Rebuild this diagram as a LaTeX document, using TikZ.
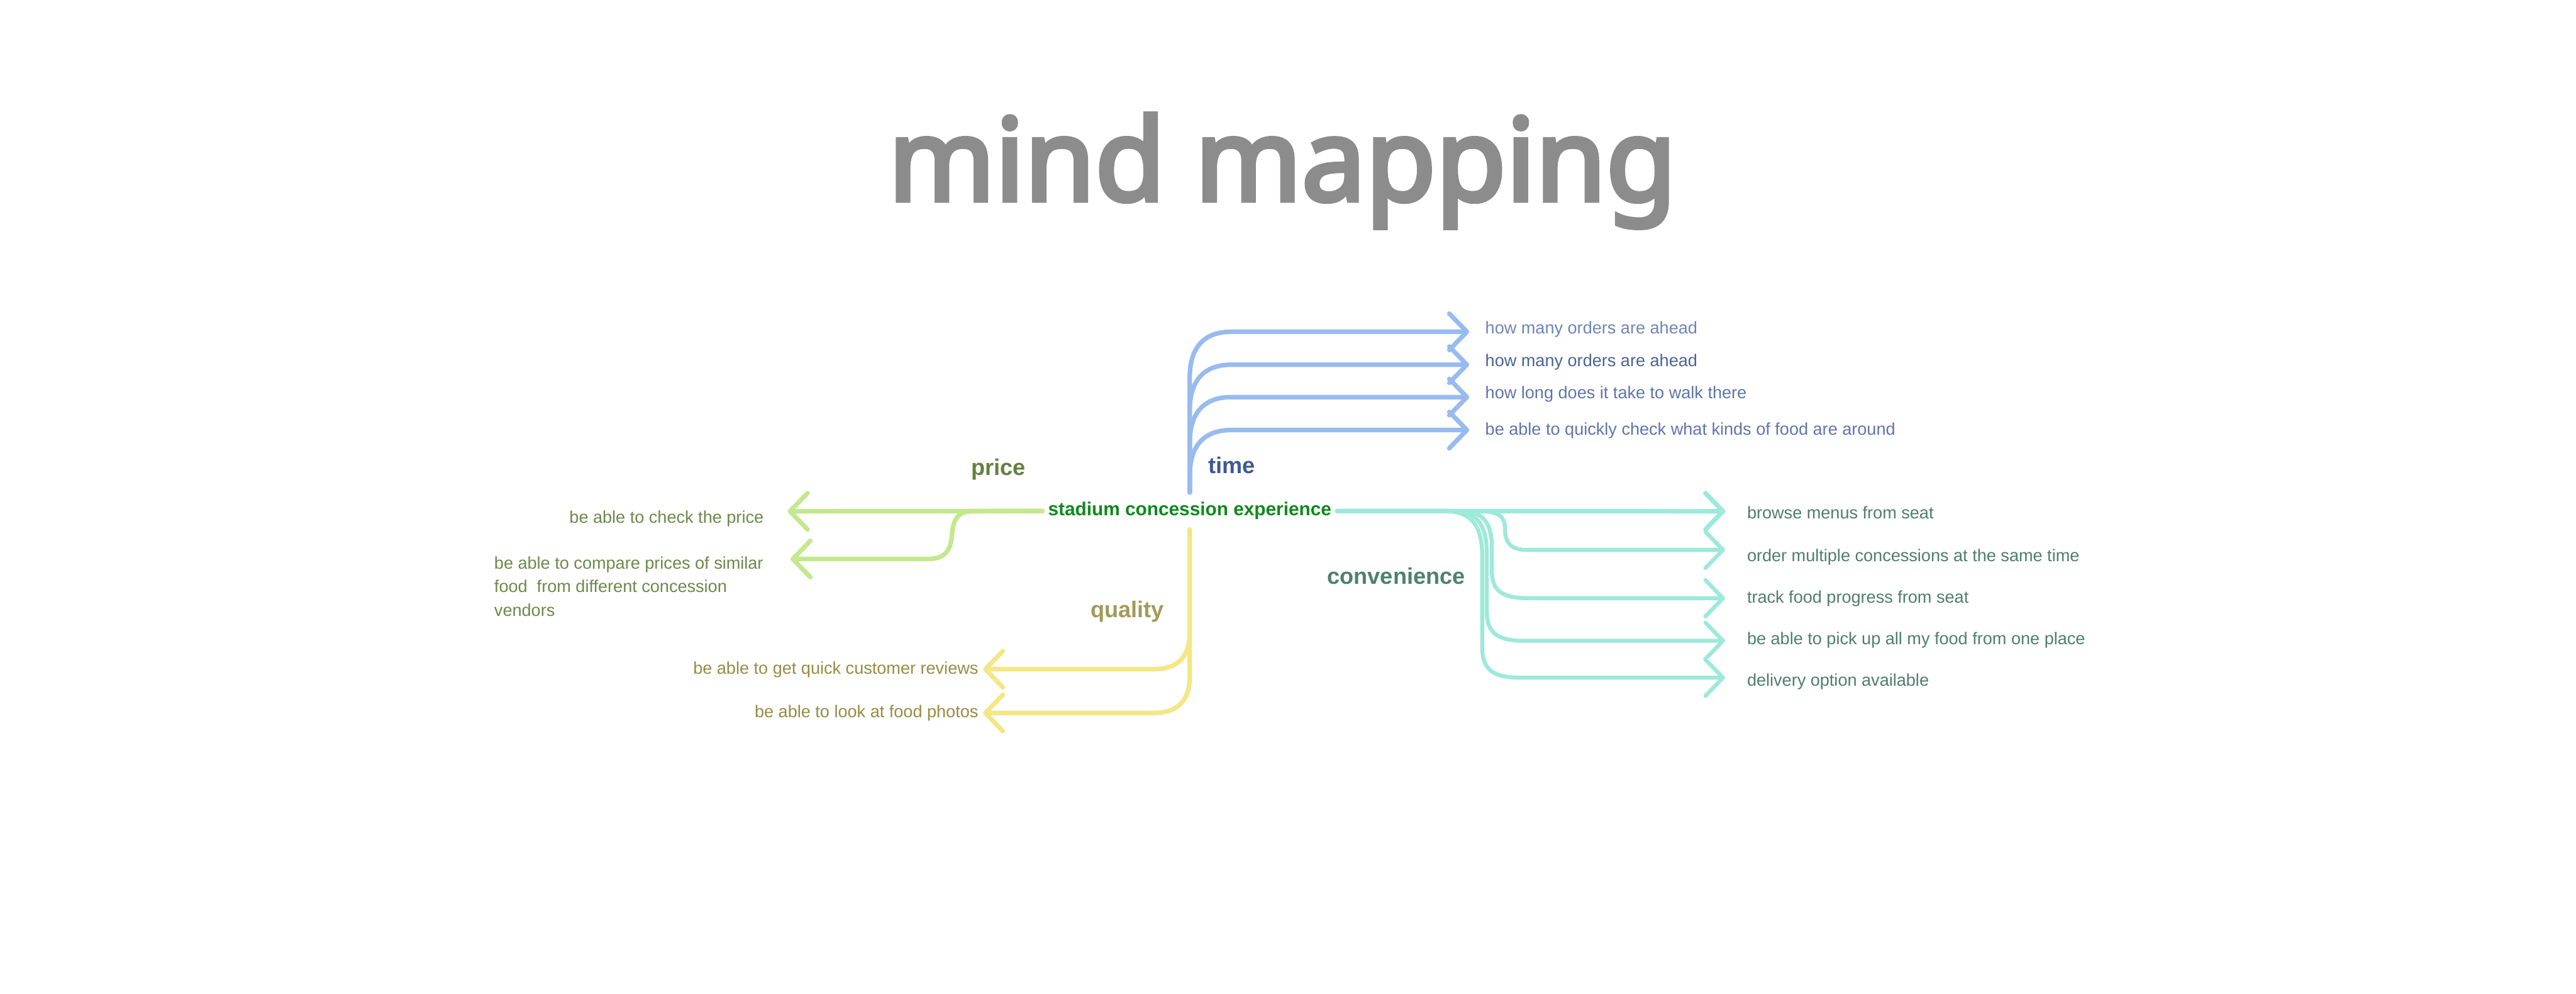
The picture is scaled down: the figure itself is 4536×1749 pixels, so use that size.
\documentclass[tikz,border=0pt]{standalone}
\usepackage{fontspec}
\setmainfont{Liberation Sans}
\newfontfamily\titlefont[FakeBold=4]{Noto Sans}
\definecolor{tline}{HTML}{98BBEF}
\definecolor{pline}{HTML}{C4E88E}
\definecolor{qline}{HTML}{F3E786}
\definecolor{cline}{HTML}{9DE9DA}
\definecolor{titlegray}{HTML}{8C8C8C}
\definecolor{rootgreen}{HTML}{0D8A1C}
\definecolor{tlabel}{HTML}{3E5A92}
\definecolor{plabel}{HTML}{638040}
\definecolor{qlabel}{HTML}{A39A58}
\definecolor{clabel}{HTML}{4E8070}
\definecolor{ttextA}{HTML}{6F86B8}
\definecolor{ttextB}{HTML}{4A6496}
\definecolor{ttextC}{HTML}{5F76AC}
\definecolor{ptext}{HTML}{6B8A4A}
\definecolor{qtext}{HTML}{978C42}
\definecolor{ctext}{HTML}{4E7E6E}
\begin{document}
\begin{tikzpicture}[x=0.5pt,y=-0.5pt,
  conn/.style={line width=4pt,line cap=round,line join=round},
  thin conn/.style={line width=3.5pt,line cap=round,line join=round},
  leaf/.style={inner sep=0pt,font=\fontsize{15}{21}\selectfont},
  lab/.style={inner sep=0pt,font=\bfseries\fontsize{20}{24}\selectfont}]
\useasboundingbox (0,0) rectangle (4536,1749);
\fill[white] (0,0) rectangle (4536,1749);

% title
\node[inner sep=0pt,anchor=base,text=titlegray,font=\titlefont\bfseries\fontsize{100.5}{110}\selectfont] (title) at (2258,353) {mind mapping};

% root
\node[anchor=base,inner xsep=4.75pt,inner ysep=8.5pt,text=rootgreen,font=\bfseries\fontsize{16.5}{20}\selectfont] (root) at (2095,908) {stadium concession experience};

% branch labels
\node[lab,anchor=base west,text=tlabel] (time) at (2127,833) {time};
\node[lab,anchor=base west,text=plabel] (price) at (1710,837) {price};
\node[lab,anchor=base west,text=qlabel] (quality) at (1920,1087) {quality};
\node[lab,anchor=base west,text=clabel] (convenience) at (2337,1028) {convenience};

% tips
\coordinate (t1) at (2583,584);
\coordinate (t2) at (2583,642);
\coordinate (t3) at (2583,699);
\coordinate (t4) at (2583,757);
\coordinate (p1) at (1391,900);
\coordinate (p2) at (1396,984);
\coordinate (q1) at (1735,1178);
\coordinate (q2) at (1735,1255);
\coordinate (c1) at (3034,900);
\coordinate (c2) at (3034,968);
\coordinate (c3) at (3034,1053);
\coordinate (c4) at (3034,1128);
\coordinate (c5) at (3034,1193);

% time leaves
\node[leaf,anchor=base west,text=ttextA] (tl1) at (2615,588) {how many orders are ahead};
\node[leaf,anchor=base west,text=ttextB] (tl2) at (2615,645) {how many orders are ahead};
\node[leaf,anchor=base west,text=ttextC] (tl3) at (2615,702) {how long does it take to walk there};
\node[leaf,anchor=base west,text=ttextC] (tl4) at (2615,766) {be able to quickly check what kinds of food are around};

% price leaves
\node[leaf,anchor=base east,text=ptext] (pl1) at (1345,921) {be able to check the price};
\node[leaf,anchor=north west,align=left,text=ptext] (pl2) at (870,979) {be able to compare prices of similar\\food~ from different concession\\vendors};

% quality leaves
\node[leaf,anchor=base east,text=qtext] (ql1) at (1723,1187) {be able to get quick customer reviews};
\node[leaf,anchor=base east,text=qtext] (ql2) at (1723,1263) {be able to look at food photos};

% convenience leaves
\node[leaf,anchor=base west,text=ctext] (cl1) at (3076,913) {browse menus from seat};
\node[leaf,anchor=base west,text=ctext] (cl2) at (3076,988) {order multiple concessions at the same time};
\node[leaf,anchor=base west,text=ctext] (cl3) at (3076,1062) {track food progress from seat};
\node[leaf,anchor=base west,text=ctext] (cl4) at (3076,1135) {be able to pick up all my food from one place};
\node[leaf,anchor=base west,text=ctext] (cl5) at (3076,1208) {delivery option available};

% time connectors
\draw[conn,tline] (root.north) -- (2095,664) .. controls (2095,614) and (2118,584) .. (2168,584) -- (t1) ++(-31,-32) -- (t1) -- ++(-31,32);
\draw[conn,tline] (root.north) -- (2095,722) .. controls (2095,672) and (2118,642) .. (2168,642) -- (t2) ++(-31,-32) -- (t2) -- ++(-31,32);
\draw[conn,tline] (root.north) -- (2095,779) .. controls (2095,729) and (2118,699) .. (2168,699) -- (t3) ++(-31,-32) -- (t3) -- ++(-31,32);
\draw[conn,tline] (root.north) -- (2095,837) .. controls (2095,787) and (2118,757) .. (2168,757) -- (t4) ++(-31,-32) -- (t4) -- ++(-31,32);

% price connectors
\draw[conn,pline] (root.west) -- (p1) ++(31,-32) -- (p1) -- ++(31,32);
\draw[conn,pline] (root.west) -- (1712,900) .. controls (1682,900) and (1678,920) .. (1676,945) .. controls (1673,972) and (1662,984) .. (1632,984) -- (p2) ++(31,-32) -- (p2) -- ++(31,32);

% quality connectors
\draw[conn,qline] (root.south) -- (2095,1113) .. controls (2095,1155) and (2075,1178) .. (2031,1178) -- (q1) ++(31,-32) -- (q1) -- ++(31,32);
\draw[conn,qline] (root.south) -- (2095,1190) .. controls (2095,1232) and (2075,1255) .. (2031,1255) -- (q2) ++(31,-32) -- (q2) -- ++(31,32);

% convenience connectors
\draw[thin conn,cline] (root.east) -- (2545,900) .. controls (2595,900) and (2610,930) .. (2610,980) -- (2610,1140) .. controls (2610,1180) and (2630,1193) .. (2680,1193) -- (c5) ++(-31,-32) -- (c5) -- ++(-31,32);
\draw[thin conn,cline] (root.east) -- (2560,900) .. controls (2605,900) and (2618,930) .. (2618,975) -- (2618,1075) .. controls (2618,1115) and (2637,1128) .. (2685,1128) -- (c4) ++(-31,-32) -- (c4) -- ++(-31,32);
\draw[thin conn,cline] (root.east) -- (2575,900) .. controls (2615,900) and (2627,925) .. (2627,965) -- (2627,1005) .. controls (2627,1040) and (2645,1053) .. (2692,1053) -- (c3) ++(-31,-32) -- (c3) -- ++(-31,32);
\draw[thin conn,cline] (root.east) -- (2605,900) .. controls (2640,900) and (2650,910) .. (2650,930) .. controls (2650,955) and (2660,968) .. (2688,968) -- (c2) ++(-31,-32) -- (c2) -- ++(-31,32);
\draw[conn,cline] (root.east) -- (c1) ++(-31,-32) -- (c1) -- ++(-31,32);
\end{tikzpicture}
\end{document}
